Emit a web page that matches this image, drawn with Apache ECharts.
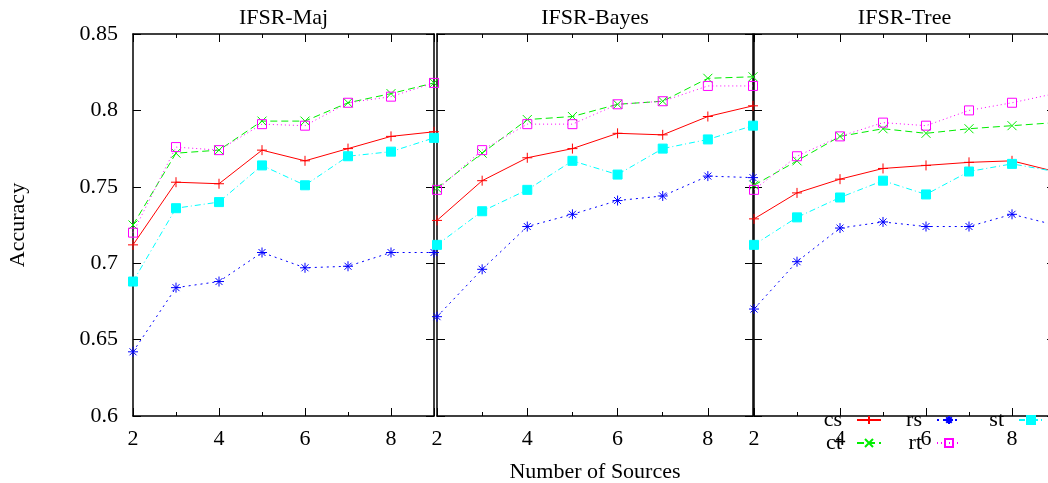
<!DOCTYPE html>
<html><head><meta charset="utf-8">
<script src="https://cdn.jsdelivr.net/npm/echarts@6/dist/echarts.min.js"></script>
<style>html,body{margin:0;padding:0;background:#fff}#c{width:1048px;height:483px}</style>
</head><body><div id="c"></div>
<script>
// ---- data ----
const sources = [2, 3, 4, 5, 6, 7, 8, 9];
const panelTitles = ['IFSR-Maj', 'IFSR-Bayes', 'IFSR-Tree'];
const seriesNames = ['cs', 'rs', 'st', 'ct', 'rt'];
const xAxisTitle = 'Number of Sources';
const yAxisTitle = 'Accuracy';

// IFSR-Maj
const maj_cs = [0.712, 0.753, 0.752, 0.774, 0.767, 0.775, 0.783, 0.786];
const maj_ct = [0.725, 0.772, 0.774, 0.793, 0.793, 0.805, 0.811, 0.818];
const maj_rs = [0.642, 0.684, 0.688, 0.707, 0.697, 0.698, 0.707, 0.707];
const maj_rt = [0.720, 0.776, 0.774, 0.791, 0.790, 0.805, 0.809, 0.818];
const maj_st = [0.688, 0.736, 0.740, 0.764, 0.751, 0.770, 0.773, 0.782];
// IFSR-Bayes
const bay_cs = [0.728, 0.754, 0.769, 0.775, 0.785, 0.784, 0.796, 0.803];
const bay_ct = [0.749, 0.772, 0.794, 0.796, 0.804, 0.806, 0.821, 0.822];
const bay_rs = [0.665, 0.696, 0.724, 0.732, 0.741, 0.744, 0.757, 0.756];
const bay_rt = [0.748, 0.774, 0.791, 0.791, 0.804, 0.806, 0.816, 0.816];
const bay_st = [0.712, 0.734, 0.748, 0.767, 0.758, 0.775, 0.781, 0.790];
// IFSR-Tree
const tree_cs = [0.729, 0.746, 0.755, 0.762, 0.764, 0.766, 0.767, 0.760];
const tree_ct = [0.751, 0.767, 0.783, 0.788, 0.785, 0.788, 0.790, 0.792];
const tree_rs = [0.670, 0.701, 0.723, 0.727, 0.724, 0.724, 0.732, 0.725];
const tree_rt = [0.748, 0.770, 0.783, 0.792, 0.790, 0.800, 0.805, 0.811];
const tree_st = [0.712, 0.730, 0.743, 0.754, 0.745, 0.760, 0.765, 0.760];

const panelData = [
  {cs: maj_cs, rs: maj_rs, st: maj_st, ct: maj_ct, rt: maj_rt},
  {cs: bay_cs, rs: bay_rs, st: bay_st, ct: bay_ct, rt: bay_rt},
  {cs: tree_cs, rs: tree_rs, st: tree_st, ct: tree_ct, rt: tree_rt}
];

// ---- styles ----
const FONT = 'Liberation Serif';
const FS = 22;
const styles = {
  cs: {color: '#ff0000', dash: 'solid', symbol: 'path://M0,5H10M5,0V10', size: 10, fill: '#ff0000'},
  ct: {color: '#00ee00', dash: [7, 4], symbol: 'path://M0,0L10,10M10,0L0,10', size: 9, fill: '#00ee00'},
  rs: {color: '#0000ff', dash: [2, 4], symbol: 'path://M0,5H10M5,0V10M1.5,1.5L8.5,8.5M8.5,1.5L1.5,8.5', size: 10, fill: '#0000ff'},
  rt: {color: '#ff00ff', dash: [1, 3], symbol: 'path://M0,0H10V10H0Z', size: 9, fill: 'rgba(0,0,0,0)'},
  st: {color: '#00ffff', dash: [6, 3, 1, 3], symbol: 'rect', size: 9, fill: '#00ffff'}
};

const grids = [
  {left: 133, top: 34, width: 301, height: 382, outerBoundsMode: 'none'},
  {left: 437, top: 34, width: 316, height: 382, outerBoundsMode: 'none'},
  {left: 754, top: 34, width: 301, height: 382, outerBoundsMode: 'none'}
];

const axisLine = {show: true, onZero: false, lineStyle: {color: '#000', width: 1.5}};
const tickLine = {color: '#000', width: 1};

const xAxis = [], yAxis = [], series = [];
grids.forEach((g, i) => {
  ['bottom', 'top'].forEach(pos => {
    xAxis.push({
      gridIndex: i, type: 'value', position: pos, min: 2, max: 9, interval: 2,
      axisLine: axisLine,
      axisTick: {show: true, inside: true, length: 8, lineStyle: tickLine},
      minorTick: {show: true, splitNumber: 2, length: 4, lineStyle: tickLine},
      splitLine: {show: false}, minorSplitLine: {show: false},
      axisLabel: {show: pos === 'bottom', margin: 12, color: '#000', fontFamily: FONT, fontSize: FS,
        formatter: v => (v === 9 ? '' : String(v))}
    });
  });
  ['left', 'right'].forEach(pos => {
    const y = {
      gridIndex: i, type: 'value', position: pos, min: 0.6, max: 0.85, interval: 0.05,
      axisLine: axisLine,
      axisTick: {show: true, inside: true, length: 8, lineStyle: tickLine},
      splitLine: {show: false},
      axisLabel: {show: i === 0 && pos === 'left', margin: 15, color: '#000', fontFamily: FONT, fontSize: FS}
    };
    if (i === 0 && pos === 'left') {
      Object.assign(y, {name: yAxisTitle, nameLocation: 'middle', nameGap: 104, nameRotate: 90,
        nameTextStyle: {color: '#000', fontFamily: FONT, fontSize: FS}});
    }
    yAxis.push(y);
  });
  const d = panelData[i];
  seriesNames.forEach(n => {
    const s = styles[n];
    series.push({
      type: 'line', name: n, xAxisIndex: i * 2, yAxisIndex: i * 2,
      data: sources.map((x, k) => [x, d[n][k]]),
      symbol: s.symbol, symbolSize: s.size, clip: false,
      lineStyle: {color: s.color, width: 1, type: s.dash},
      itemStyle: {color: s.fill, borderColor: s.color, borderWidth: 1},
      emphasis: {disabled: true}
    });
  });
});

const title = panelTitles.map((t, i) => ({
  text: t, left: grids[i].left + grids[i].width / 2, top: 7, textAlign: 'center', padding: 0,
  textStyle: {color: '#000', fontFamily: FONT, fontSize: FS, fontWeight: 'normal'}
}));
title.push({text: xAxisTitle, left: 595, top: 461, textAlign: 'center', padding: 0,
  textStyle: {color: '#000', fontFamily: FONT, fontSize: FS, fontWeight: 'normal'}});

const legendPlaces = {cs: [166, 409], rs: [86, 409], st: [4, 409], ct: [166, 432], rt: [86, 432]};
const legend = seriesNames.map(n => ({
  data: [n], right: legendPlaces[n][0], top: legendPlaces[n][1], align: 'right', orient: 'horizontal',
  itemWidth: 24, itemHeight: 10, padding: 0, selectedMode: false,
  textStyle: {color: '#000', fontFamily: FONT, fontSize: FS, padding: [0, 10, 0, 0]}
}));

const chart = echarts.init(document.getElementById('c'), null, {renderer: 'canvas'});
chart.setOption({
  animation: false, backgroundColor: '#fff',
  title, legend, grid: grids, xAxis, yAxis, series
});
</script></body></html>
